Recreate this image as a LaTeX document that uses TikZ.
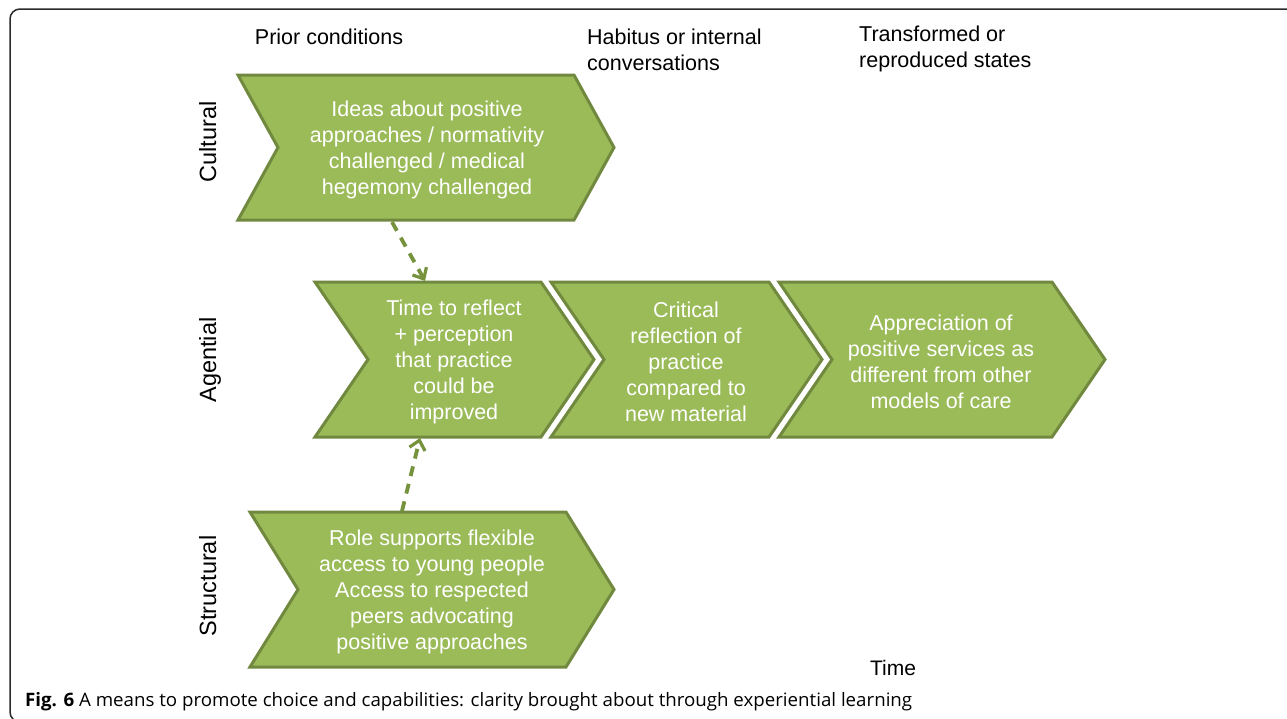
\documentclass[tikz,border=0pt]{standalone}
\usepackage{fontspec}
\usepackage{graphicx}
\setmainfont{Liberation Sans}
\newfontfamily\capfont{Open Sans}
\usetikzlibrary{arrows.meta}
\definecolor{chevfill}{HTML}{9BBB59}
\definecolor{chevline}{HTML}{71893F}
\definecolor{arrowgreen}{HTML}{76923C}
\definecolor{framecol}{HTML}{2A2A2A}
\newcommand{\mychevron}[5]{% x-left, y-top, x-righttop, y-bottom, depth
  \filldraw[chevstyle] (#1,#2) -- (#3,#2) -- ({#3+#5},{(#2+#4)/2}) -- (#3,#4) -- (#1,#4) -- ({#1+#5},{(#2+#4)/2}) -- cycle;}
\begin{document}
\begin{tikzpicture}[x=1pt,y=-1pt,
  chevstyle/.style={fill=chevfill,draw=chevline,line width=3pt,line join=miter},
  boxtext/.style={text=white,align=center,inner sep=0pt,font=\fontsize{21.5}{26}\selectfont},
  toptext/.style={text=black,align=left,inner sep=0pt,font=\fontsize{21.5}{26}\selectfont},
  sidetext/.style={text=black,inner sep=0pt,rotate=90,anchor=base,font=\fontsize{23.5}{28}\selectfont},
  dasharrow/.style={draw=arrowgreen,line width=3.8pt,dash pattern=on 10pt off 8pt,
     -{Straight Barb[length=9pt,width=16pt,line width=3.2pt]}}]
\useasboundingbox (0,0) rectangle (1287,718);
\fill[white] (0,0) rectangle (1287,718);
\begin{scope}
\clip (0,0) rectangle (1287,718);
\draw[framecol,line width=1.5pt,rounded corners=10pt] (10,9) rectangle (1310,722);
\end{scope}

% chevrons
\mychevron{238}{75}{574}{220}{40}
\mychevron{315}{282}{541}{437}{53}
\mychevron{551}{282}{769}{437}{53}
\mychevron{779}{282}{1052}{437}{53}
\mychevron{250}{512}{566}{667}{48}

% chevron texts
\node[boxtext] (cult) at (427,150) {Ideas about positive\\approaches / normativity\\challenged / medical\\hegemony challenged};
\node[boxtext] (agone) at (454,362) {Time to reflect\\+ perception\\that practice\\could be\\improved};
\node[boxtext] (agtwo) at (686,362) {Critical\\reflection of\\practice\\compared to\\new material};
\node[boxtext] (agthree) at (941,362) {Appreciation of\\positive services as\\different from other\\models of care};
\node[boxtext] (struct) at (432,592) {Role supports flexible\\access to young people\\Access to respected\\peers advocating\\positive approaches};

% column headers
\node[toptext,anchor=base] (prior) at (329,44) {Prior conditions};
\node[toptext,anchor=north west] (habitus) at (587,29) {Habitus or internal\\conversations};
\node[toptext,anchor=north west] (transf) at (859,26) {Transformed or\\reproduced states};

% row labels
\node[sidetext] (cultural) at (216,142) {Cultural};
\node[sidetext] (agential) at (216,360) {Agential};
\node[sidetext] (structural) at (216,586) {Structural};

\node[toptext,anchor=base,font=\fontsize{21}{25}\selectfont] (time) at (893,675) {Time};

% dashed arrows
\coordinate (cbot) at (392,222);
\coordinate (atop) at (425,281);
\coordinate (stop) at (402,511);
\coordinate (abot) at (420,438);
\draw[dasharrow] (cbot) -- (atop);
\draw[dasharrow] (stop) -- (abot);

% caption
\node[anchor=base west,inner sep=0pt] (caption) at (25,706)
  {\resizebox{887pt}{\height}{\capfont\fontsize{18.5}{22}\selectfont\textbf{Fig. 6} A means to promote choice and capabilities: clarity brought about through experiential learning}};
\end{tikzpicture}
\end{document}
